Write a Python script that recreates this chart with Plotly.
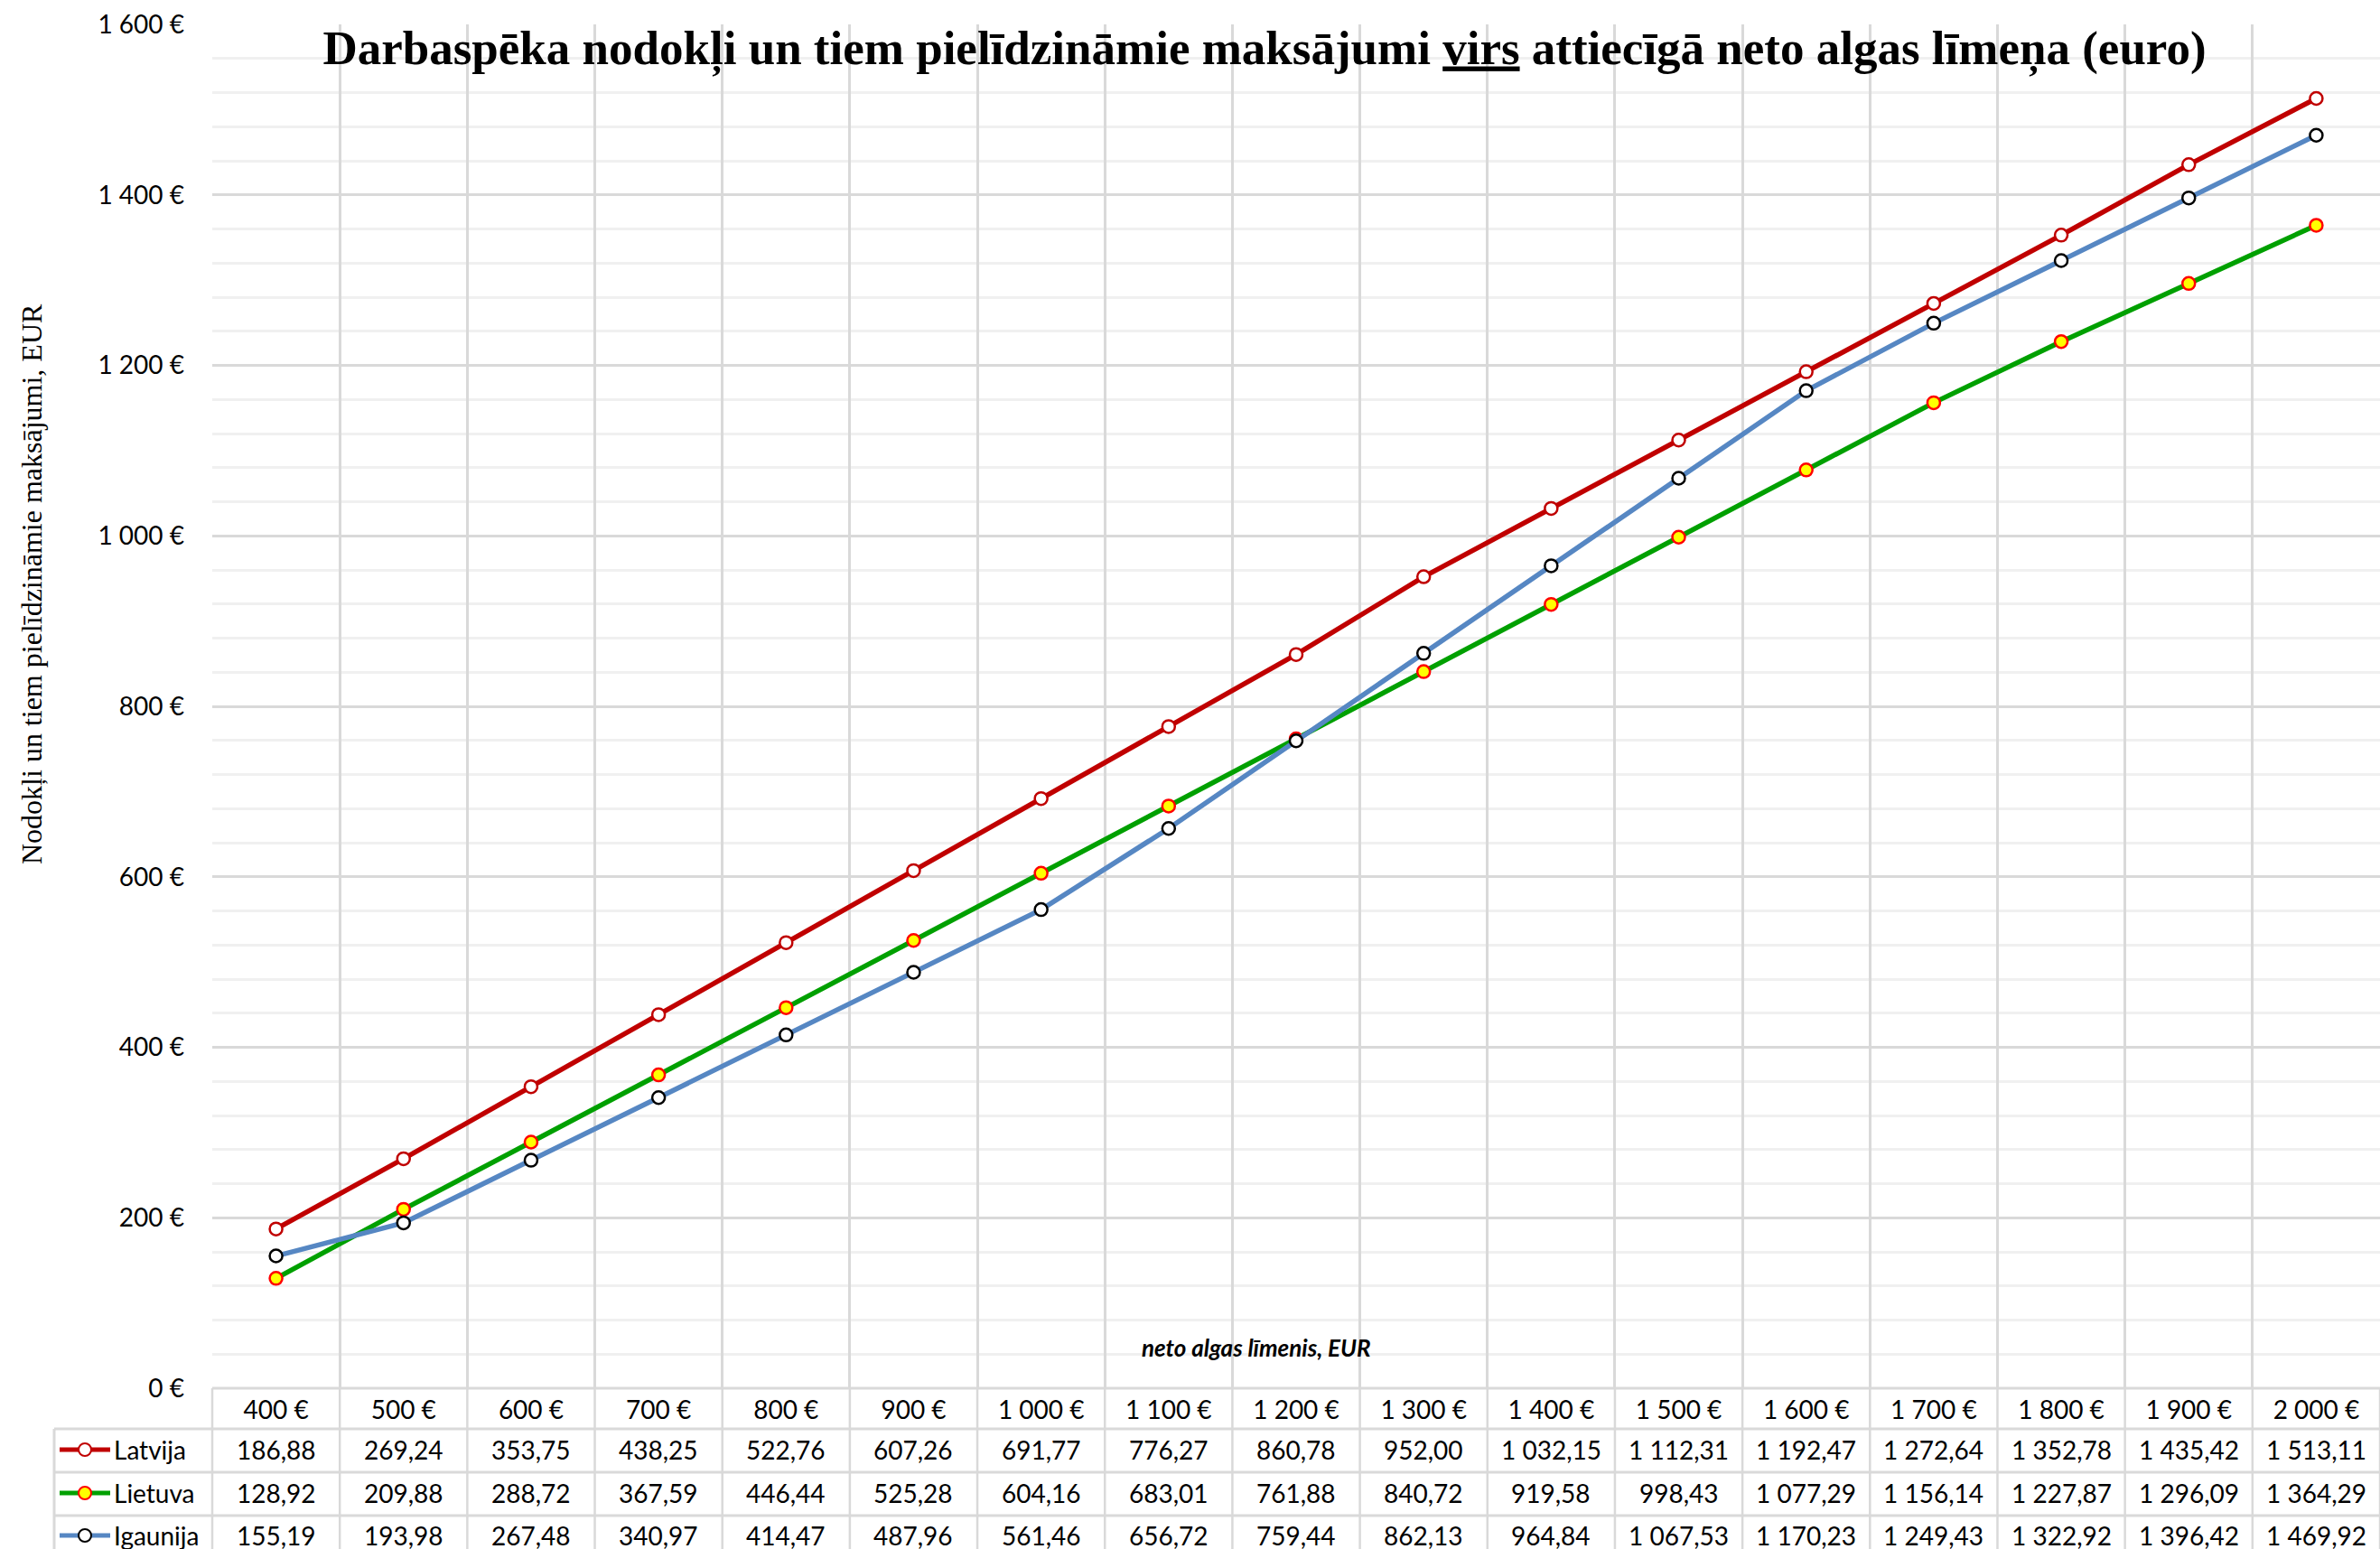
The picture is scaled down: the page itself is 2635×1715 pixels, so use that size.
import plotly.graph_objects as go

# ---------------- data ----------------
categories = ["400 €", "500 €", "600 €", "700 €", "800 €", "900 €", "1 000 €", "1 100 €",
              "1 200 €", "1 300 €", "1 400 €", "1 500 €", "1 600 €", "1 700 €", "1 800 €",
              "1 900 €", "2 000 €"]
latvija = [186.88, 269.24, 353.75, 438.25, 522.76, 607.26, 691.77, 776.27, 860.78, 952.00,
           1032.15, 1112.31, 1192.47, 1272.64, 1352.78, 1435.42, 1513.11]
lietuva = [128.92, 209.88, 288.72, 367.59, 446.44, 525.28, 604.16, 683.01, 761.88, 840.72,
           919.58, 998.43, 1077.29, 1156.14, 1227.87, 1296.09, 1364.29]
igaunija = [155.19, 193.98, 267.48, 340.97, 414.47, 487.96, 561.46, 656.72, 759.44, 862.13,
            964.84, 1067.53, 1170.23, 1249.43, 1322.92, 1396.42, 1469.92]
series_names = ["Latvija", "Lietuva", "Igaunija"]
y_tick_values = [0, 200, 400, 600, 800, 1000, 1200, 1400, 1600]
y_tick_labels = ["0 €", "200 €", "400 €", "600 €", "800 €", "1 000 €", "1 200 €", "1 400 €", "1 600 €"]

title_text = ("<b>Darbaspēka nodokļi un tiem pielīdzināmie maksājumi <u>virs</u> "
              "attiecīgā neto algas līmeņa (euro)</b>")
y_title = "Nodokļi un tiem pielīdzināmie maksājumi, EUR"
x_title = "<b><i>neto algas līmenis, EUR</i></b>"

# ---------------- styling ----------------
W, H = 2635, 1715
PL, PR, PT, PB = 235, 2635, 27, 1537
NCOL = len(categories)
COLW = (PR - PL) / NCOL
GRID = "#d9d9d9"
SANS = "Lato"
FS = 28


def px(X):
    return (X - PL) / (PR - PL)


def py(Y):
    return (PB - Y) / (PB - PT)


styles = [
    dict(line="#C00000", fill="#FFFFFF", border="#C00000"),
    dict(line="#00A000", fill="#FFFF00", border="#FF0000"),
    dict(line="#5687C3", fill="#FFFFFF", border="#000000"),
]
values = [latvija, lietuva, igaunija]


def fmt(v):
    return f"{v:,.2f}".replace(",", " ").replace(".", ",")


fig = go.Figure()
for name, vals, st in zip(series_names, values, styles):
    fig.add_trace(go.Scatter(
        x=categories, y=vals, name=name, mode="lines+markers",
        line=dict(color=st["line"], width=5.5),
        marker=dict(symbol="circle", size=14, color=st["fill"],
                    line=dict(color=st["border"], width=2.5)),
        showlegend=False, cliponaxis=False,
    ))

row_centers = [1605, 1653, 1700]
annotations = []
shapes = []

# table values
for vals, yc in zip(values, row_centers):
    for c, v in zip(categories, vals):
        annotations.append(dict(
            x=c, xref="x", y=py(yc), yref="paper", text=fmt(v), showarrow=False,
            xanchor="center", yanchor="middle", font=dict(family=SANS, size=FS, color="black")))

# legend keys in table
for name, st, yc in zip(series_names, styles, row_centers):
    annotations.append(dict(
        x=px(124), xref="paper", y=py(yc), yref="paper", text=name, showarrow=False,
        xanchor="left", yanchor="middle", font=dict(family=SANS, size=FS, color="black")))
    shapes.append(dict(type="line", xref="paper", yref="paper", x0=px(66), x1=px(122),
                       y0=py(yc), y1=py(yc), line=dict(color=st["line"], width=5)))
    shapes.append(dict(type="circle", xref="paper", yref="paper",
                       x0=px(94 - 7), x1=px(94 + 7), y0=py(yc + 7), y1=py(yc - 7),
                       fillcolor=st["fill"], line=dict(color=st["border"], width=2)))

# table grid
shapes.append(dict(type="line", xref="paper", yref="paper", x0=px(PL), x1=1, y0=py(1537), y1=py(1537),
                   line=dict(color=GRID, width=3), layer="below"))
for yl in [1582, 1630, 1678]:
    shapes.append(dict(type="line", xref="paper", yref="paper", x0=px(60), x1=1, y0=py(yl), y1=py(yl),
                       line=dict(color=GRID, width=3), layer="below"))
shapes.append(dict(type="line", xref="paper", yref="paper", x0=px(60), x1=px(60), y0=py(1582), y1=py(1730),
                   line=dict(color=GRID, width=3), layer="below"))
for i in range(NCOL + 1):
    xb = px(PL + i * COLW)
    shapes.append(dict(type="line", xref="paper", yref="paper", x0=xb, x1=xb, y0=py(1537), y1=py(1730),
                       line=dict(color=GRID, width=2.5), layer="below"))

annotations.append(dict(x=px(1391), xref="paper", y=py(1492), yref="paper", text=x_title,
                        showarrow=False, xanchor="center", yanchor="middle",
                        font=dict(family=SANS, size=26, color="black")))
annotations.append(dict(x=px(35), xref="paper", y=py(647), yref="paper", text=y_title,
                        showarrow=False, textangle=-90, xanchor="center", yanchor="middle",
                        font=dict(family="Liberation Serif", size=32, color="black")))

fig.update_layout(
    width=W, height=H,
    margin=dict(l=PL, r=W - PR, t=PT, b=H - PB, pad=0),
    paper_bgcolor="white", plot_bgcolor="white",
    title=dict(text=title_text, x=1400 / W, xref="container", xanchor="center",
               y=1 - 52 / H, yref="container", yanchor="middle",
               font=dict(family="Liberation Serif", size=53, color="black")),
    xaxis=dict(type="category", range=[-0.5, NCOL - 0.5], tickson="boundaries",
               showgrid=True, gridcolor=GRID, gridwidth=2.5, ticks="", showline=False,
               zeroline=False, ticklabelstandoff=5,
               tickfont=dict(family=SANS, size=FS, color="black")),
    yaxis=dict(range=[0, 1600], tickmode="array", tickvals=y_tick_values, ticktext=y_tick_labels,
               showgrid=True, gridcolor=GRID, gridwidth=2.5, zeroline=False, ticks="",
               showline=False, ticklabelstandoff=30,
               tickfont=dict(family=SANS, size=FS, color="black"),
               minor=dict(tickmode="linear", tick0=0, dtick=40, showgrid=True,
                          gridcolor="#f0f0f0", gridwidth=2.5)),
    annotations=annotations, shapes=shapes,
)

fig.write_html("out.html", config={"displayModeBar": False},
               post_script="document.body.style.margin='0';document.body.style.overflow='hidden';")
